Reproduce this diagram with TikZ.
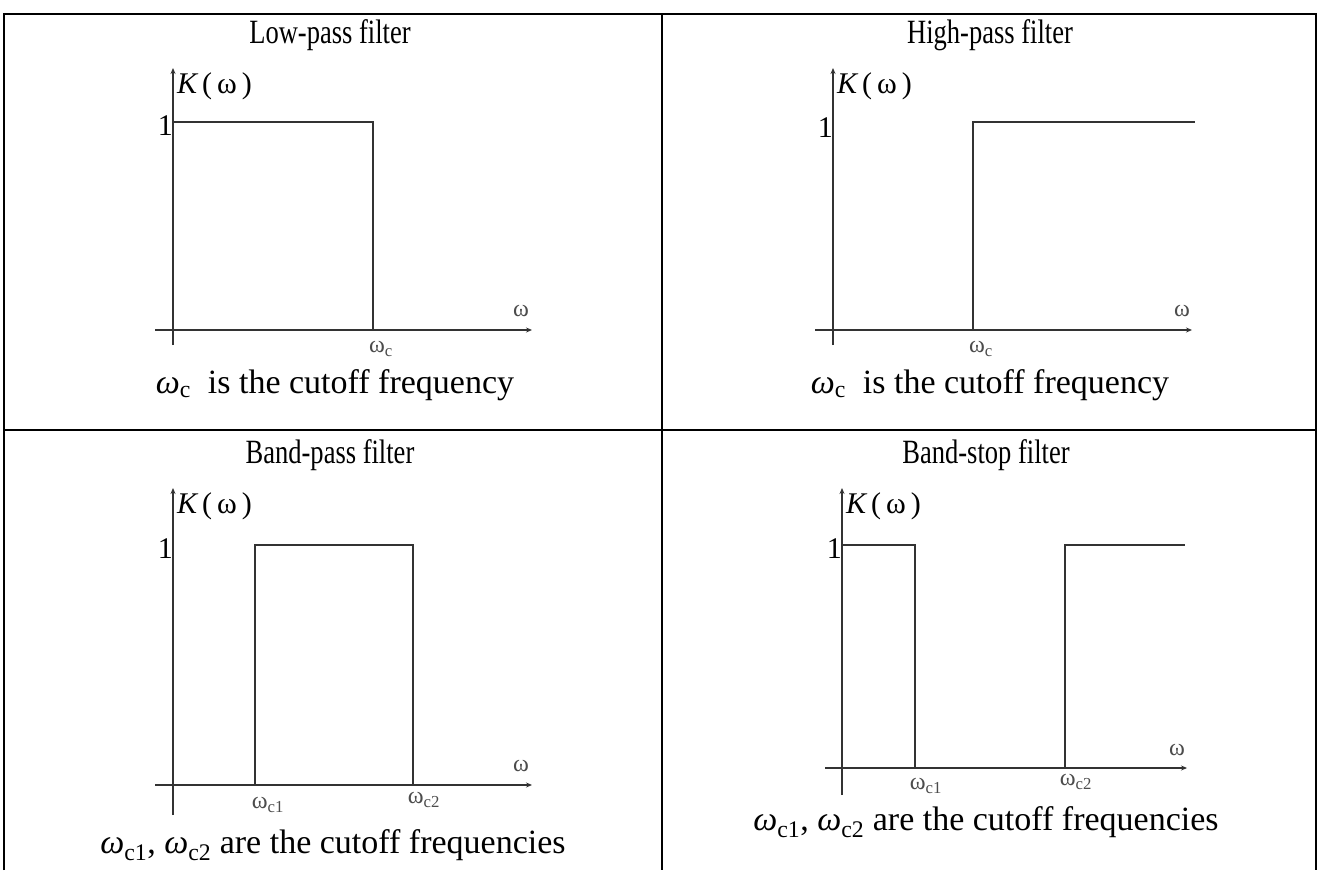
\documentclass[tikz,border=0pt]{standalone}
\usepackage{fontspec}
\setmainfont{Liberation Serif}
\newfontfamily\narrowserif[FakeStretch=0.78]{Liberation Serif}
\usetikzlibrary{arrows.meta,positioning}

\begin{document}
\begin{tikzpicture}[
  x=1pt, y=-1pt,
  frame/.style={line width=2.6pt},
  axis/.style={line width=1.8pt, draw=black!80, -{Stealth[length=6pt,width=5pt]}},
  plot/.style={line width=2pt, draw=black!80},
  title/.style={font=\narrowserif\fontsize{34}{40}\selectfont, inner sep=0pt},
  caption/.style={font=\fontsize{34}{40}\selectfont, inner sep=0pt},
  klabel/.style={font=\fontsize{30}{36}\selectfont, inner sep=0pt, anchor=west},
  one/.style={font=\fontsize{30}{36}\selectfont, inner sep=0pt, anchor=east},
  tick/.style={font=\fontsize{24}{28}\selectfont, text=black!70, inner sep=0pt}
]
\useasboundingbox (0,0) rectangle (1319,870);
% table lines
\draw[frame] (4,870) -- (4,14) -- (1316,14) -- (1316,870);
\draw[frame] (662,14) -- (662,870);
\draw[frame] (4,430) -- (1316,430);

% low-pass
\node[title] (lp-title) at (330,35) {Low-pass filter};
\draw[axis] (173,345) -- (173,68);
\draw[axis] (155,330) -- (532,330);
\draw[plot] (173,122) -- (373,122) -- (373,330);
\node[klabel] (lp-k) at (177,86) {{\itshape K}\,(\,ω\,)};
\node[one] (lp-one) at (173,126) {1};
\node[tick] (lp-w) at (521,311) {ω};
\node[tick] (lp-wc) at (381,349) {ω\textsubscript{c}};
\node[caption] (lp-cap) at (335,385) {{\itshape ω}\textsubscript{c}\ \ is the cutoff frequency};

% high-pass
\node[title] (hp-title) at (990,35) {High-pass filter};
\draw[axis] (833,345) -- (833,68);
\draw[axis] (815,330) -- (1192,330);
\draw[plot] (973,330) -- (973,122) -- (1195,122);
\node[klabel] (hp-k) at (837,86) {{\itshape K}\,(\,ω\,)};
\node[one] (hp-one) at (833,128) {1};
\node[tick] (hp-w) at (1182,311) {ω};
\node[tick] (hp-wc) at (981,349) {ω\textsubscript{c}};
\node[caption] (hp-cap) at (990,385) {{\itshape ω}\textsubscript{c}\ \ is the cutoff frequency};

% band-pass
\node[title] (bp-title) at (330,455) {Band-pass filter};
\draw[axis] (173,815) -- (173,488);
\draw[axis] (155,785) -- (532,785);
\draw[plot] (255,785) -- (255,545) -- (413,545) -- (413,785);
\node[klabel] (bp-k) at (177,506) {{\itshape K}\,(\,ω\,)};
\node[one] (bp-one) at (173,549) {1};
\node[tick] (bp-w) at (521,766) {ω};
\node[tick] (bp-wc1) at (268,805) {ω\textsubscript{c1}};
\node[tick] (bp-wc2) at (424,800) {ω\textsubscript{c2}};
\node[caption] (bp-cap) at (333,845) {{\itshape ω}\textsubscript{c1}, {\itshape ω}\textsubscript{c2} are the cutoff frequencies};

% band-stop
\node[title] (bs-title) at (986,455) {Band-stop filter};
\draw[axis] (842,795) -- (842,488);
\draw[axis] (825,768) -- (1187,768);
\draw[plot] (842,545) -- (915,545) -- (915,768);
\draw[plot] (1065,768) -- (1065,545) -- (1185,545);
\node[klabel] (bs-k) at (846,506) {{\itshape K}\,(\,ω\,)};
\node[one] (bs-one) at (842,549) {1};
\node[tick] (bs-w) at (1177,750) {ω};
\node[tick] (bs-wc1) at (926,786) {ω\textsubscript{c1}};
\node[tick] (bs-wc2) at (1076,782) {ω\textsubscript{c2}};
\node[caption] (bs-cap) at (986,822) {{\itshape ω}\textsubscript{c1}, {\itshape ω}\textsubscript{c2} are the cutoff frequencies};
\end{tikzpicture}
\end{document}
